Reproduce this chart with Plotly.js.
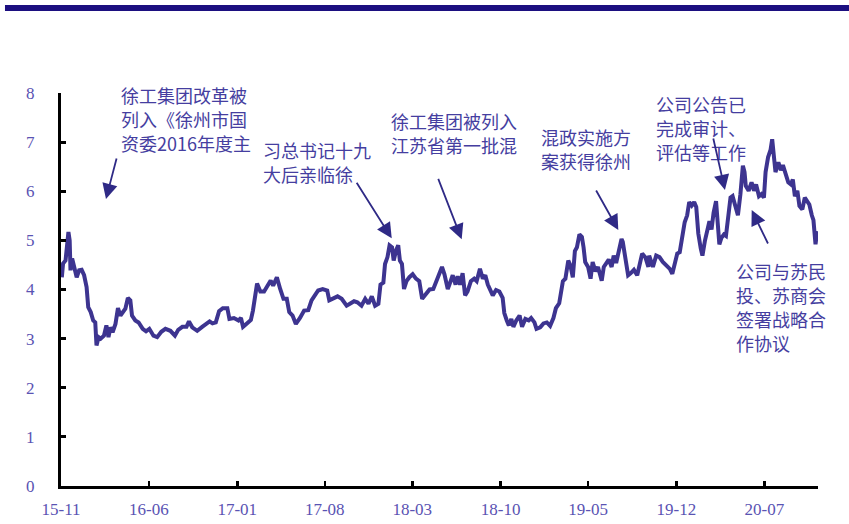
<!DOCTYPE html>
<html>
<head>
<meta charset="utf-8">
<script src="https://cdn.plot.ly/plotly-3.0.1.min.js"></script>
<style>html,body{margin:0;padding:0;background:#fff;}#chart{width:849px;height:524px;}</style>
</head>
<body>
<div id="chart"></div>
<script>
const dates = [
"2015-11-03","2015-11-06","2015-11-12","2015-11-19","2015-11-22","2015-11-24","2015-11-28","2015-12-03","2015-12-09","2015-12-15","2015-12-21","2015-12-27",
"2016-01-02","2016-01-06","2016-01-12","2016-01-18","2016-01-23","2016-01-26","2016-01-31","2016-02-05","2016-02-13","2016-02-19","2016-02-24","2016-02-29",
"2016-03-05","2016-03-12","2016-03-18","2016-03-24","2016-03-31","2016-04-05","2016-04-11","2016-04-17","2016-04-21","2016-04-29","2016-05-07","2016-05-17",
"2016-05-25","2016-06-02","2016-06-12","2016-06-21","2016-07-01","2016-07-11","2016-07-23","2016-08-03","2016-08-11","2016-08-21","2016-08-31","2016-09-06",
"2016-09-14","2016-09-26","2016-10-08","2016-10-20","2016-10-26","2016-11-02","2016-11-10","2016-11-18","2016-11-27","2016-12-08","2016-12-13","2016-12-24",
"2017-01-04","2017-01-10","2017-01-15","2017-01-23","2017-02-03","2017-02-08","2017-02-13","2017-02-18","2017-02-26","2017-03-07","2017-03-15","2017-03-23",
"2017-03-29","2017-04-07","2017-04-15","2017-04-23","2017-05-01","2017-05-07","2017-05-15","2017-05-23","2017-06-02","2017-06-12","2017-06-22","2017-06-30",
"2017-07-08","2017-07-16","2017-07-27","2017-08-07","2017-08-12","2017-08-22","2017-09-01","2017-09-11","2017-09-23","2017-10-01","2017-10-11","2017-10-19",
"2017-10-29","2017-11-07","2017-11-15","2017-11-23","2017-12-01","2017-12-09","2017-12-14","2017-12-21","2017-12-25","2017-12-31","2018-01-05","2018-01-11",
"2018-01-15","2018-01-21","2018-01-26","2018-01-30","2018-02-04","2018-02-09","2018-02-15","2018-02-22","2018-03-02","2018-03-10","2018-03-18","2018-03-25",
"2018-04-04","2018-04-12","2018-04-21","2018-04-28","2018-05-06","2018-05-12","2018-05-18","2018-05-26","2018-05-30","2018-06-07","2018-06-14","2018-06-19",
"2018-06-25","2018-07-01","2018-07-07","2018-07-13","2018-07-21","2018-07-29","2018-08-04","2018-08-12","2018-08-19","2018-08-25","2018-08-31","2018-09-06",
"2018-09-12","2018-09-20","2018-09-28","2018-10-06","2018-10-10","2018-10-16","2018-10-21","2018-10-27","2018-11-01","2018-11-08","2018-11-16","2018-11-22",
"2018-11-30","2018-12-08","2018-12-14","2018-12-22","2018-12-27","2019-01-05","2019-01-13","2019-01-21","2019-01-29","2019-02-06","2019-02-12","2019-02-20",
"2019-02-24","2019-03-01","2019-03-07","2019-03-14","2019-03-19","2019-03-25","2019-03-30","2019-04-04","2019-04-10","2019-04-16","2019-04-20","2019-04-24",
"2019-05-01","2019-05-07","2019-05-12","2019-05-19","2019-05-25","2019-06-03","2019-06-08","2019-06-14","2019-06-20","2019-06-27","2019-07-02","2019-07-08",
"2019-07-14","2019-07-21","2019-07-24","2019-07-31","2019-08-06","2019-08-12","2019-08-20","2019-08-28","2019-09-03","2019-09-09","2019-09-17","2019-09-24",
"2019-09-26","2019-10-05","2019-10-13","2019-10-21","2019-10-29","2019-11-07","2019-11-15","2019-11-21","2019-11-28","2019-12-03","2019-12-09","2019-12-15",
"2019-12-21","2019-12-27","2020-01-01","2020-01-07","2020-01-13","2020-01-18","2020-01-23","2020-01-29","2020-02-02","2020-02-08","2020-02-13","2020-02-19",
"2020-02-24","2020-02-29","2020-03-06","2020-03-09","2020-03-14","2020-03-19","2020-03-25","2020-03-30","2020-04-04","2020-04-10","2020-04-15","2020-04-22",
"2020-04-28","2020-05-04","2020-05-10","2020-05-14","2020-05-17","2020-05-24","2020-05-31","2020-06-06","2020-06-11","2020-06-18","2020-06-24","2020-06-30",
"2020-07-04","2020-07-10","2020-07-16","2020-07-20","2020-07-24","2020-07-28","2020-08-04","2020-08-10","2020-08-15","2020-08-21","2020-08-28","2020-09-03",
"2020-09-08","2020-09-13","2020-09-19","2020-09-24","2020-10-01","2020-10-07","2020-10-13","2020-10-18","2020-10-24","2020-10-28","2020-11-02","2020-11-06"
];
const prices = [
4.25,4.53,4.59,5.17,5.00,4.39,4.63,4.46,4.25,4.39,4.40,4.29,
4.05,3.64,3.54,3.37,3.33,2.86,3.03,3.00,3.06,3.27,3.03,3.23,
3.13,3.30,3.62,3.47,3.54,3.61,3.83,3.78,3.47,3.37,3.33,3.20,
3.15,3.20,3.06,3.03,3.14,3.20,3.16,3.06,3.18,3.24,3.24,3.35,
3.23,3.16,3.24,3.30,3.35,3.31,3.33,3.56,3.62,3.62,3.40,3.42,
3.37,3.42,3.24,3.30,3.38,3.57,3.90,4.12,3.96,3.96,4.07,4.18,
4.08,4.25,4.01,3.81,3.81,3.54,3.47,3.30,3.42,3.57,3.58,3.78,
3.88,3.98,4.01,3.98,3.78,3.81,3.86,3.81,3.67,3.71,3.76,3.74,
3.67,3.81,3.71,3.86,3.67,3.71,4.10,4.14,4.52,4.66,4.90,4.86,
4.59,4.80,4.90,4.59,4.52,4.01,4.17,4.25,4.31,4.22,4.17,3.81,
3.91,4.00,4.01,4.17,4.31,4.46,4.31,4.01,4.10,4.29,4.10,4.27,
4.10,4.33,3.88,3.96,4.17,4.22,4.17,4.42,4.22,4.29,4.10,4.00,
3.88,3.99,3.96,3.83,3.52,3.37,3.27,3.40,3.24,3.37,3.47,3.24,
3.40,3.37,3.42,3.33,3.20,3.23,3.31,3.33,3.26,3.42,3.62,3.72,
3.96,4.17,4.22,4.59,4.49,4.25,4.78,4.86,5.12,5.07,4.86,4.56,
4.46,4.22,4.56,4.37,4.46,4.18,4.46,4.54,4.61,4.46,4.69,4.54,
4.80,5.03,4.97,4.66,4.29,4.33,4.40,4.29,4.56,4.73,4.65,4.46,
4.69,4.46,4.69,4.66,4.56,4.49,4.42,4.32,4.56,4.73,4.76,5.14,
5.37,5.51,5.78,5.71,5.78,5.68,5.14,4.83,4.69,4.99,5.19,5.39,
5.22,5.56,5.80,5.50,4.92,5.05,5.12,5.09,5.53,5.87,5.90,5.71,
5.51,5.94,6.52,6.39,6.11,6.01,6.18,6.01,6.14,5.90,5.94,5.87,
6.39,6.69,6.84,7.06,6.72,6.39,6.59,6.43,6.53,6.39,6.18,6.14,
6.24,5.90,6.01,5.70,5.63,5.87,5.80,5.73,5.51,5.41,4.92,5.19
];
const noteLines = [
  ["徐工集团改革被","列入《徐州市国","资委2016年度主"],
  ["习总书记十九","大后亲临徐"],
  ["徐工集团被列入","江苏省第一批混"],
  ["混政实施方","案获得徐州"],
  ["公司公告已","完成审计、","评估等工作"],
  ["公司与苏民","投、苏商会","签署战略合","作协议"]
];

const lineColor = "#3d3490";
const textColor = "#453ea0";
const tickColor = "#5a53b3";

// layout of the notes: left edge (paper x) and first-line centre (paper y), line step in px
const noteBox = [
  {x:0.0766, y:0.9949},
  {x:0.2642, y:0.8550},
  {x:0.4332, y:0.9288},
  {x:0.6314, y:0.8880},
  {x:0.7834, y:0.9720},
  {x:0.8890, y:0.5471}
];
const lineStep = 24/393;
const arrows = [
  {x:0.0594, y:0.7303, ax:11, ay:-42},
  {x:0.4369, y:0.6303, ax:-36, ay:-57},
  {x:0.5293, y:0.6277, ax:-24, ay:-62},
  {x:0.7362, y:0.6514, ax:-23, ay:-41},
  {x:0.8771, y:0.7532, ax:-12, ay:-53},
  {x:0.9124, y:0.7023, ax:17, ay:35}
];

const annotations = [];
noteLines.forEach((lines,i)=>{
  lines.forEach((t,j)=>{
    annotations.push({
      xref:"paper", yref:"paper", x:noteBox[i].x, y:noteBox[i].y - j*lineStep,
      xanchor:"left", yanchor:"middle", align:"left", showarrow:false,
      text:t, font:{family:"Noto Sans CJK SC", size:18, color:textColor}
    });
  });
});
arrows.forEach(a=>{
  annotations.push({
    xref:"paper", yref:"paper", x:a.x, y:a.y, ax:a.ax, ay:a.ay,
    text:"", showarrow:true, arrowhead:2, arrowsize:1.7, arrowwidth:1.8,
    arrowcolor:"#2f2a86"
  });
});

const trace = {
  x: dates, y: prices, type:"scatter", mode:"lines",
  line:{color:lineColor, width:4}, hoverinfo:"skip"
};

const layout = {
  width:849, height:524,
  margin:{l:61, r:31, t:93, b:38},
  paper_bgcolor:"#fff", plot_bgcolor:"#fff",
  showlegend:false,
  xaxis:{
    type:"date", range:["2015-11-01","2020-11-08"],
    tick0:"2015-11-01", dtick:"M7", tickformat:"%y-%m",
    showline:true, linecolor:"#000", linewidth:3,
    ticks:"inside", ticklen:5, tickwidth:2.5, tickcolor:"#000",
    showgrid:false, zeroline:false,
    tickfont:{family:"Liberation Serif", size:17, color:tickColor},
    ticklabelstandoff:6
  },
  yaxis:{
    range:[0,8], dtick:1, tick0:0,
    showline:true, linecolor:"#000", linewidth:3,
    ticks:"inside", ticklen:5, tickwidth:3, tickcolor:"#000",
    showgrid:false, zeroline:false,
    tickfont:{family:"Liberation Serif", size:17, color:tickColor},
    ticklabelstandoff:20
  },
  shapes:[{
    type:"rect", xref:"paper", yref:"paper",
    x0:-0.074, x1:1.05, y0:1.2087, y1:1.2239,
    fillcolor:"#1c0f80", line:{width:0}
  }],
  annotations: annotations
};

Plotly.newPlot("chart", [trace], layout, {displayModeBar:false, staticPlot:true});
</script>
</body>
</html>
